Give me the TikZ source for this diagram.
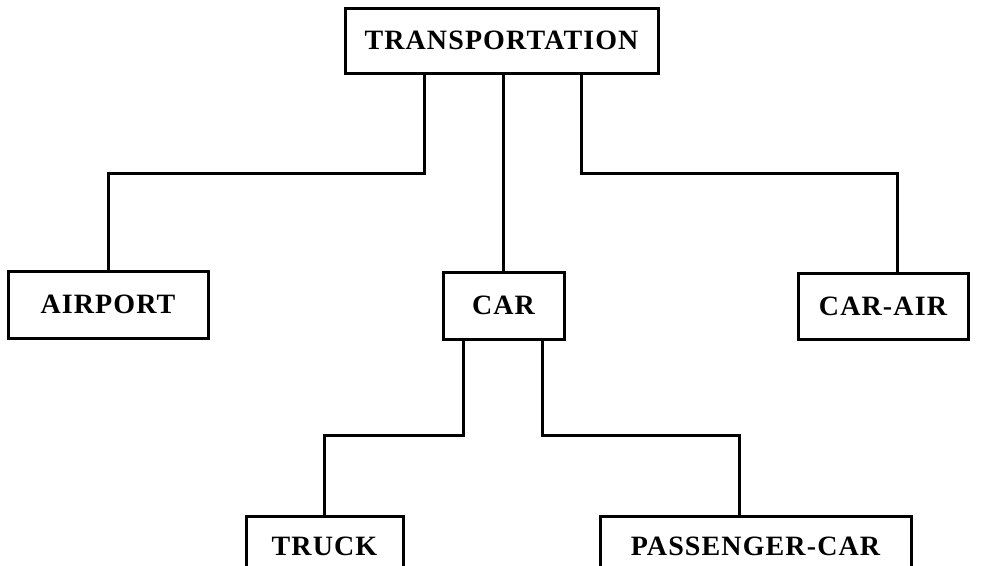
\documentclass[tikz,border=0pt]{standalone}
\usepackage{fontspec}
\newfontfamily\labelfont[LetterSpace=4]{Liberation Serif}
\begin{document}
\begin{tikzpicture}[x=1pt,y=1pt,
  box/.style={draw, line width=3pt, rectangle, inner sep=0pt,
    font=\labelfont\bfseries\fontsize{28}{28}\selectfont},
  link/.style={line width=3pt}]
\useasboundingbox (0,0) rectangle (990,-565);
\clip (0,0) rectangle (990,-565);
% boxes
\node[box, minimum width=313pt, minimum height=65pt] (T) at (501.5,-40.5) {TRANSPORTATION};
\node[box, minimum width=200pt, minimum height=67pt] (A) at (108,-304.5) {AIRPORT};
\node[box, minimum width=121pt, minimum height=67pt] (C) at (503.5,-305.5) {CAR};
\node[box, minimum width=170pt, minimum height=66pt] (CA) at (883,-306) {CAR-AIR};
\node[box, minimum width=157pt, minimum height=67pt, text depth=6pt] (TR) at (324.5,-549.5) {TRUCK};
\node[box, minimum width=311pt, minimum height=67pt, text depth=6pt] (PC) at (755.5,-549.5) {PASSENGER-CAR};
% connectors from the root
\draw[link] ([xshift=-77.5pt]T.south) -- ++(0,-99) -| (A.north);
\draw[link] (T.south -| C.north) -- (C.north);
\draw[link] ([xshift=79.5pt]T.south) -- ++(0,-99) -| ([xshift=14pt]CA.north);
% connectors from CAR
\draw[link] ([xshift=-40.5pt]C.south) -- ++(0,-95) -| (TR.north);
\draw[link] ([xshift=38.5pt]C.south) -- ++(0,-95) -| ([xshift=-16.5pt]PC.north);
\end{tikzpicture}
\end{document}
